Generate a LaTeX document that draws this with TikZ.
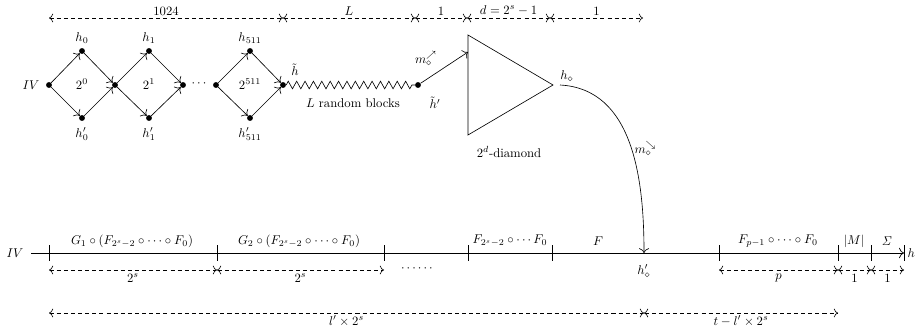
\documentclass[tikz,border=0pt]{standalone}
\usepackage{amsmath,amssymb}
\usetikzlibrary{decorations.pathmorphing,calc,arrows.meta}
\begin{document}
\begin{tikzpicture}[x=0.7874pt,y=-0.7874pt,
  dot/.style={circle,fill=black,inner sep=0pt,minimum size=4.6pt},
  lbl/.style={inner sep=1pt},
  arr/.style={-{To[scale=1.4]},line width=0.5pt},
  dim/.style={{To[scale=1.2]}-{To[scale=1.2]},line width=0.5pt,dash pattern=on 3.2pt off 2.4pt},
  axis/.style={line width=0.55pt},
  tickmark/.style={line width=0.55pt}]
\useasboundingbox (0,0) rectangle (918,327);

% ---------- top: diamonds ----------
\node[dot] (iv) at (49,85) {};
\node[lbl] (ivl) at (31,85) {$IV$};
\node[dot] (h0) at (82,51) {};
\node[dot] (h0p) at (82,118) {};
\node[dot] (m1) at (115,85) {};
\node[dot] (h1) at (149,51) {};
\node[dot] (h1p) at (149,118) {};
\node[dot] (m2) at (183,85) {};
\node[lbl] (dots1) at (200,84) {$\cdots$};
\node[dot] (m3) at (216,85) {};
\node[dot] (h511) at (250,51) {};
\node[dot] (h511p) at (250,118) {};
\node[dot] (hb) at (283,85) {};

\node[lbl] (lh0) at (82,38) {$h_0$};
\node[lbl] (lh0p) at (82,134) {$h'_0$};
\node[lbl] (lh1) at (149,38) {$h_1$};
\node[lbl] (lh1p) at (149,134) {$h'_1$};
\node[lbl] (lh511) at (250,38) {$h_{511}$};
\node[lbl] (lh511p) at (250,134) {$h'_{511}$};
\node[lbl] (p0) at (82,84) {$2^0$};
\node[lbl] (p1) at (149,84) {$2^1$};
\node[lbl] (p511) at (250,84) {$2^{511}$};

\draw[arr] (iv) -- (h0);
\draw[arr] (iv) -- (h0p);
\draw[arr] (h0) -- (m1);
\draw[arr] (h0p) -- (m1);
\draw[arr] (m1) -- (h1);
\draw[arr] (m1) -- (h1p);
\draw[arr] (h1) -- (m2);
\draw[arr] (h1p) -- (m2);
\draw[arr] (m3) -- (h511);
\draw[arr] (m3) -- (h511p);
\draw[arr] (h511) -- (hb);
\draw[arr] (h511p) -- (hb);

% ---------- zigzag ----------
\node[dot] (hbp) at (418,85) {};
\node[lbl] (lhb) at (295,70) {$\tilde{h}$};
\node[lbl] (lhbp) at (435,103) {$\tilde{h}'$};
\node[lbl] (lrb) at (353,103) {$L$ random blocks};
\draw[line width=0.5pt,decorate,decoration={zigzag,segment length=6.6pt,amplitude=3pt}] (hb) -- (hbp);

% ---------- triangle ----------
\coordinate (ta) at (468,35);
\coordinate (tb) at (468,135);
\coordinate (tc) at (553,85);
\draw[line width=0.5pt] (ta) -- (tb) -- (tc) -- cycle;
\coordinate (tin) at (468,52);
\draw[arr] (hbp) -- (tin);
\node[lbl] (lm1) at (426,58) {$m_\diamond^{\nearrow}$};
\node[lbl] (ldia) at (509,152) {$2^d$-diamond};
\node[lbl] (lhd) at (567,76) {$h_\diamond$};

% ---------- curve ----------
\coordinate (cs) at (560,85);
\coordinate (hdp) at (644,253);
\draw[arr] (cs) to[out=-3,in=90] (hdp);
\node[lbl,anchor=west] (lm2) at (633,148) {$m_\diamond^{\searrow}$};
\node[lbl] (lhdp) at (644,271) {$h'_\diamond$};

% ---------- top dimensions ----------
\coordinate (t0) at (49,18);
\coordinate (t1) at (283,18);
\coordinate (t2) at (415,18);
\coordinate (t3) at (467,18);
\coordinate (t4) at (550,18);
\coordinate (t5) at (643,18);
\draw[dim] (t0) -- node[above,inner sep=2pt] (d1) {$1024$} (t1);
\draw[dim] (t1) -- node[above,inner sep=2pt] (d2) {$L$} (t2);
\draw[dim] (t2) -- node[above,inner sep=2pt] (d3) {$1$} (t3);
\draw[dim] (t3) -- node[above,inner sep=2pt] (d4) {$d = 2^s - 1$} (t4);
\draw[dim] (t4) -- node[above,inner sep=2pt] (d5) {$1$} (t5);

% ---------- bottom line ----------
\coordinate (bs) at (31,253);
\coordinate (b0) at (49,253);
\coordinate (b1) at (217,253);
\coordinate (b2) at (384,253);
\coordinate (b3) at (468,253);
\coordinate (b4) at (552,253);
\coordinate (b6) at (719,253);
\coordinate (b7) at (838,253);
\coordinate (b8) at (871,253);
\coordinate (b9) at (904,253);
\node[lbl] (livb) at (15,253) {$IV$};
\node[lbl,anchor=west] (lh) at (906,253) {$h$};
\draw[axis,-{To[scale=1.4]}] (bs) -- (b9);
\foreach \c in {b0,b1,b2,b3,b4,b6,b7,b8,b9}
  \draw[tickmark] ($(\c)+(0,-8)$) -- ($(\c)+(0,8)$);

\node[lbl] (g1) at (132,241) {$G_1\circ(F_{2^s-2}\circ\cdots\circ F_0)$};
\node[lbl] (g2) at (299,241) {$G_2\circ(F_{2^s-2}\circ\cdots\circ F_0)$};
\node[lbl] (f2) at (510,241) {$F_{2^s-2}\circ\cdots F_0$};
\node[lbl] (ff) at (598,241) {$F$};
\node[lbl] (fp) at (778,241) {$F_{p-1}\circ\cdots\circ F_0$};
\node[lbl] (mm) at (854,241) {$|M|$};
\node[lbl] (sg) at (887,241) {$\mathit{\Sigma}$};

% ---------- bottom dimensions ----------
\coordinate (u0) at (49,270);
\coordinate (u1) at (217,270);
\coordinate (u2) at (384,270);
\coordinate (u6) at (719,270);
\coordinate (u7) at (838,270);
\coordinate (u8) at (871,270);
\coordinate (u9) at (904,270);
\draw[dim] (u0) -- node[below,inner sep=3pt] (e1) {$2^s$} (u1);
\draw[dim] (u1) -- node[below,inner sep=3pt] (e2) {$2^s$} (u2);
\node[lbl] (edots) at (418,269) {$\cdots\cdots$};
\draw[dim] (u6) -- node[below,inner sep=3pt] (e3) {$p$} (u7);
\draw[dim] (u7) -- node[below,inner sep=3pt] (e4) {$1$} (u8);
\draw[dim] (u8) -- node[below,inner sep=3pt] (e5) {$1$} (u9);

\coordinate (v0) at (49,313);
\coordinate (v1) at (644,313);
\coordinate (v2) at (838,313);
\draw[dim] (v0) -- node[below,inner sep=2pt] (w1) {$l'\times2^s$} (v1);
\draw[dim] (v1) -- node[below,inner sep=2pt] (w2) {$t-l'\times2^s$} (v2);
\end{tikzpicture}
\end{document}
